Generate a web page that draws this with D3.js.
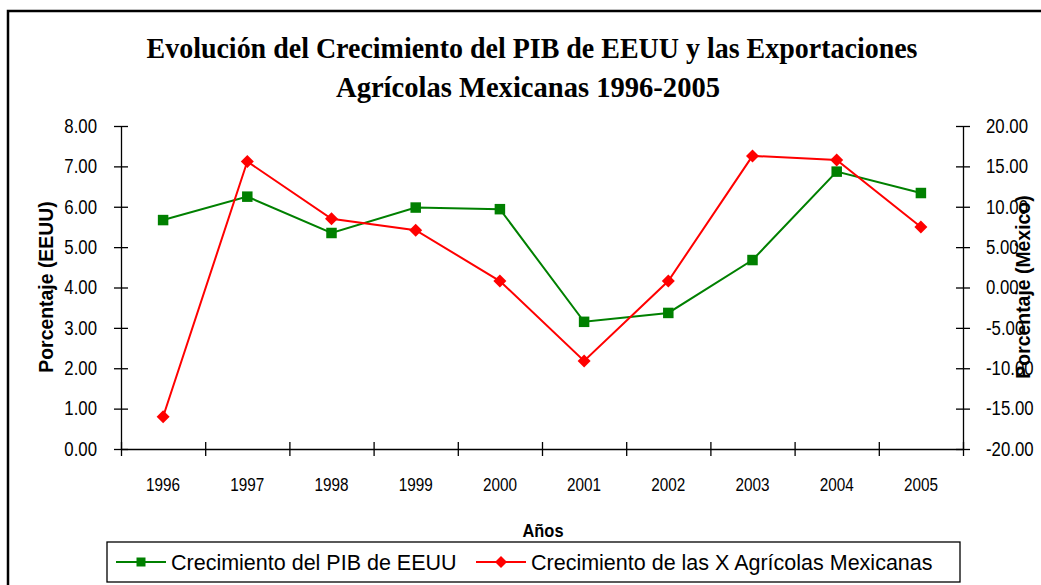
<!DOCTYPE html>
<html>
<head>
<meta charset="utf-8">
<script src="https://cdn.jsdelivr.net/npm/d3@7"></script>
<style>
    body { margin: 0; background: #fff; }
    svg { display: block; }
    .tick text { font-family: "Liberation Sans", Arial, sans-serif; font-size: 19.5px; fill: #000; }
    .domain, .tick line { stroke: #000; stroke-width: 1.3px; }
</style>
</head>
<body>
<div id="grafica"></div>
<script>
"use strict";

const anios = ["1996", "1997", "1998", "1999", "2000", "2001", "2002", "2003", "2004", "2005"];
const pibEEUU = [5.67, 6.25, 5.35, 5.98, 5.94, 3.15, 3.37, 4.68, 6.87, 6.34];
const exportMex = [-16.0, 15.6, 8.5, 7.1, 0.8, -9.1, 0.8, 16.3, 15.8, 7.5];
const ticksIzq = [0, 1, 2, 3, 4, 5, 6, 7, 8];
const ticksDer = [-20, -15, -10, -5, 0, 5, 10, 15, 20];
const series = [
    { nombre: "Crecimiento del PIB de EEUU", valores: pibEEUU, color: "#008000", forma: "cuadro", eje: "izq" },
    { nombre: "Crecimiento de las X Agrícolas Mexicanas", valores: exportMex, color: "#ff0000", forma: "rombo", eje: "der" }
];

const width = 1041, height = 585;
const margin = { top: 126, left: 121, right: 963, bottom: 449 };
const formato = (d) => d.toFixed(2);

// el texto original esta estirado en vertical: se comprime en horizontal
function estrechar(seleccion, factor) {
    seleccion.each(function () {
        const largo = this.getComputedTextLength();
        d3.select(this).attr("textLength", largo * factor).attr("lengthAdjust", "spacingAndGlyphs");
    });
}

const svg = d3.select("#grafica").append("svg")
    .attr("width", width)
    .attr("height", height);

// marco exterior
svg.append("rect")
    .attr("x", 8).attr("y", 11)
    .attr("width", 1100).attr("height", 700)
    .attr("fill", "#fff")
    .attr("stroke", "#000")
    .attr("stroke-width", 2.5);

// titulo
const titulo = svg.append("text")
    .attr("text-anchor", "middle")
    .style("font-family", "'Liberation Serif', 'Times New Roman', serif")
    .style("font-weight", "bold")
    .style("font-size", "29px");
titulo.append("tspan").attr("x", 532).attr("y", 58)
    .attr("textLength", 771).attr("lengthAdjust", "spacingAndGlyphs")
    .text("Evolución del Crecimiento del PIB de EEUU y las Exportaciones");
titulo.append("tspan").attr("x", 528).attr("y", 97)
    .attr("textLength", 384).attr("lengthAdjust", "spacingAndGlyphs")
    .text("Agrícolas Mexicanas 1996-2005");

// escalas
const x = d3.scaleBand().domain(anios).range([margin.left, margin.right]).paddingInner(0).paddingOuter(0);
const xBordes = d3.scaleLinear().domain([0, anios.length]).range([margin.left, margin.right]);
const yIzq = d3.scaleLinear().domain([0, 8]).range([margin.bottom, margin.top]);
const yDer = d3.scaleLinear().domain([-20, 20]).range([margin.bottom, margin.top]);
const escalas = { izq: yIzq, der: yDer };

// eje izquierdo
const ejeIzq = svg.append("g")
    .attr("transform", "translate(" + margin.left + ",0)")
    .call(d3.axisLeft(yIzq).tickValues(ticksIzq).tickFormat(formato).tickSizeOuter(0).tickPadding(18));
ejeIzq.selectAll(".tick line").attr("x1", -7).attr("x2", 7);
ejeIzq.selectAll(".tick text").call(estrechar, 0.86);

// eje derecho
const ejeDer = svg.append("g")
    .attr("transform", "translate(" + margin.right + ",0)")
    .call(d3.axisRight(yDer).tickValues(ticksDer).tickFormat(formato).tickSizeOuter(0).tickPadding(17));
ejeDer.selectAll(".tick line").attr("x1", -7).attr("x2", 7);
ejeDer.selectAll(".tick text").call(estrechar, 0.86);

// eje x
const ejeX = svg.append("g")
    .attr("transform", "translate(0," + margin.bottom + ")")
    .call(d3.axisBottom(xBordes).tickValues(d3.range(0, anios.length + 1)).tickFormat("").tickSizeOuter(0));
ejeX.selectAll(".tick line").attr("y1", -7).attr("y2", 7);

svg.append("g").selectAll("text")
    .data(anios).enter().append("text")
    .attr("x", (d) => x(d) + x.bandwidth() / 2)
    .attr("y", 491)
    .attr("text-anchor", "middle")
    .style("font-family", "'Liberation Sans', Arial, sans-serif")
    .style("font-size", "18px")
    .text((d) => d)
    .call(estrechar, 0.85);

// titulos de ejes
svg.append("text")
    .attr("x", 543).attr("y", 537)
    .attr("text-anchor", "middle")
    .attr("textLength", 41).attr("lengthAdjust", "spacingAndGlyphs")
    .style("font-family", "'Liberation Sans', Arial, sans-serif")
    .style("font-weight", "bold")
    .style("font-size", "19px")
    .text("Años");

svg.append("text")
    .attr("transform", "translate(53,287) rotate(-90)")
    .attr("text-anchor", "middle")
    .style("font-family", "'Liberation Sans', Arial, sans-serif")
    .style("font-weight", "bold")
    .style("font-size", "20px")
    .text("Porcentaje (EEUU)")
    .call(estrechar, 0.97);

svg.append("text")
    .attr("transform", "translate(1030,287) rotate(-90)")
    .attr("text-anchor", "middle")
    .style("font-family", "'Liberation Sans', Arial, sans-serif")
    .style("font-weight", "bold")
    .style("font-size", "20px")
    .text("Porcentaje (México)")
    .call(estrechar, 0.97);

// lineas y marcadores
const simbolo = (forma, tam) => forma === "cuadro"
    ? d3.symbol().type(d3.symbolSquare).size(tam * tam)()
    : "M0," + (-tam / 2) + "L" + (tam / 2) + ",0L0," + (tam / 2) + "L" + (-tam / 2) + ",0Z";

series.forEach(function (s) {
    const y = escalas[s.eje];
    const linea = d3.line()
        .x((d, i) => x(anios[i]) + x.bandwidth() / 2)
        .y((d) => y(d));
    svg.append("path")
        .datum(s.valores)
        .attr("d", linea)
        .attr("fill", "none")
        .attr("stroke", s.color)
        .attr("stroke-width", 2);
    svg.append("g").selectAll("path")
        .data(s.valores).enter().append("path")
        .attr("transform", (d, i) => "translate(" + (x(anios[i]) + x.bandwidth() / 2) + "," + y(d) + ")")
        .attr("d", simbolo(s.forma, s.forma === "cuadro" ? 10.5 : 13))
        .attr("fill", s.color);
});

// leyenda
svg.append("rect")
    .attr("x", 107).attr("y", 542)
    .attr("width", 853).attr("height", 40)
    .attr("fill", "#fff")
    .attr("stroke", "#000")
    .attr("stroke-width", 1.3);

const posLeyenda = [116, 476];
const leyenda = svg.selectAll(".leyenda")
    .data(series).enter().append("g")
    .attr("class", "leyenda")
    .attr("transform", (d, i) => "translate(" + posLeyenda[i] + ",562)");
leyenda.append("line")
    .attr("x1", 0).attr("x2", 50)
    .attr("stroke", (d) => d.color)
    .attr("stroke-width", 2);
leyenda.append("path")
    .attr("transform", "translate(25,0)")
    .attr("d", (d) => simbolo(d.forma, d.forma === "cuadro" ? 9 : 12))
    .attr("fill", (d) => d.color);
leyenda.append("text")
    .attr("x", 55)
    .attr("dy", ".35em")
    .style("font-family", "'Liberation Sans', Arial, sans-serif")
    .style("font-size", "21.5px")
    .text((d) => d.nombre);
</script>
</body>
</html>
